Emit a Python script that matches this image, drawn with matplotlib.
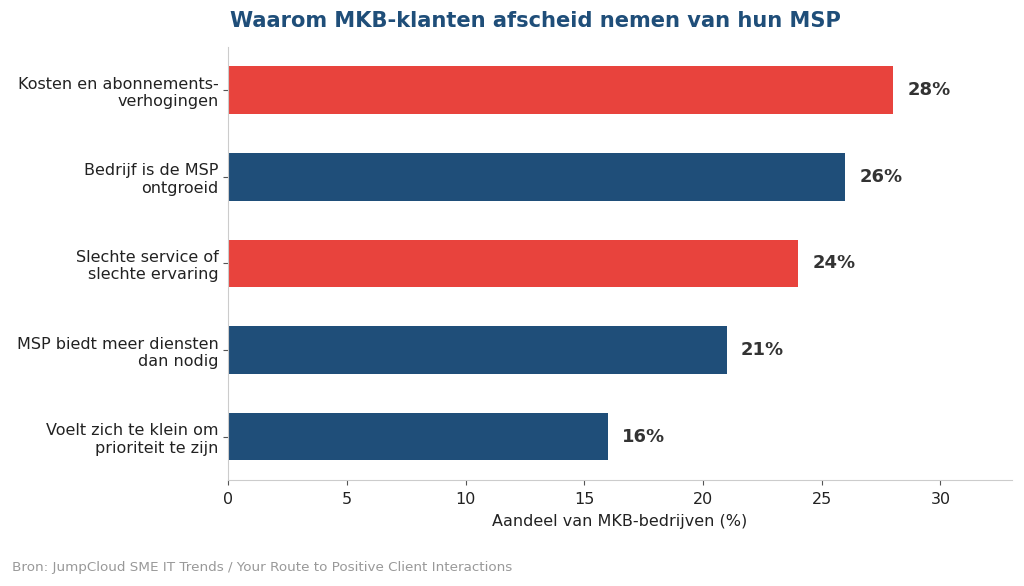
import matplotlib.pyplot as plt

categories = ['Kosten en abonnements-\nverhogingen',
              'Bedrijf is de MSP\nontgroeid',
              'Slechte service of\nslechte ervaring',
              'MSP biedt meer diensten\ndan nodig',
              'Voelt zich te klein om\nprioriteit te zijn']
values = [28, 26, 24, 21, 16]
highlight = [True, False, True, False, False]

red = '#E8433D'
blue = '#1F4E79'

fig = plt.figure(figsize=(10.24, 5.86), dpi=100)
ax = fig.add_axes([0.2227, 0.181, 0.7653, 0.739])

ypos = list(range(len(categories)))
colors = [red if h else blue for h in highlight]
ax.barh(ypos, values, height=0.55, color=colors)

for y, v in zip(ypos, values):
    ax.text(v + 0.6, y, f'{v}%', va='center', ha='left',
            fontsize=13, fontweight='bold', color='#333333')

ax.set_yticks(ypos)
ax.set_yticklabels(categories, fontsize=11.5, color='#222222')
ax.set_ylim(len(categories) - 0.5, -0.5)
ax.set_xlim(0, 33)
ax.set_xticks([0, 5, 10, 15, 20, 25, 30])
ax.tick_params(axis='x', labelsize=11.5, pad=5, colors='#222222')
ax.tick_params(axis='both', color='#555555')
ax.set_xlabel('Aandeel van MKB-bedrijven (%)', fontsize=11.5, labelpad=5.5, color='#222222')

ax.spines['top'].set_visible(False)
ax.spines['right'].set_visible(False)
ax.spines['left'].set_color('#cccccc')
ax.spines['bottom'].set_color('#cccccc')

fig.text(0.5225, 0.965, 'Waarom MKB-klanten afscheid nemen van hun MSP',
         ha='center', va='center', fontsize=15.1, fontweight='bold', color=blue)
fig.text(0.012, 0.032, 'Bron: JumpCloud SME IT Trends / Your Route to Positive Client Interactions',
         ha='left', va='center', fontsize=9.7, color='#999999')

fig.savefig('out.png', dpi=100)
